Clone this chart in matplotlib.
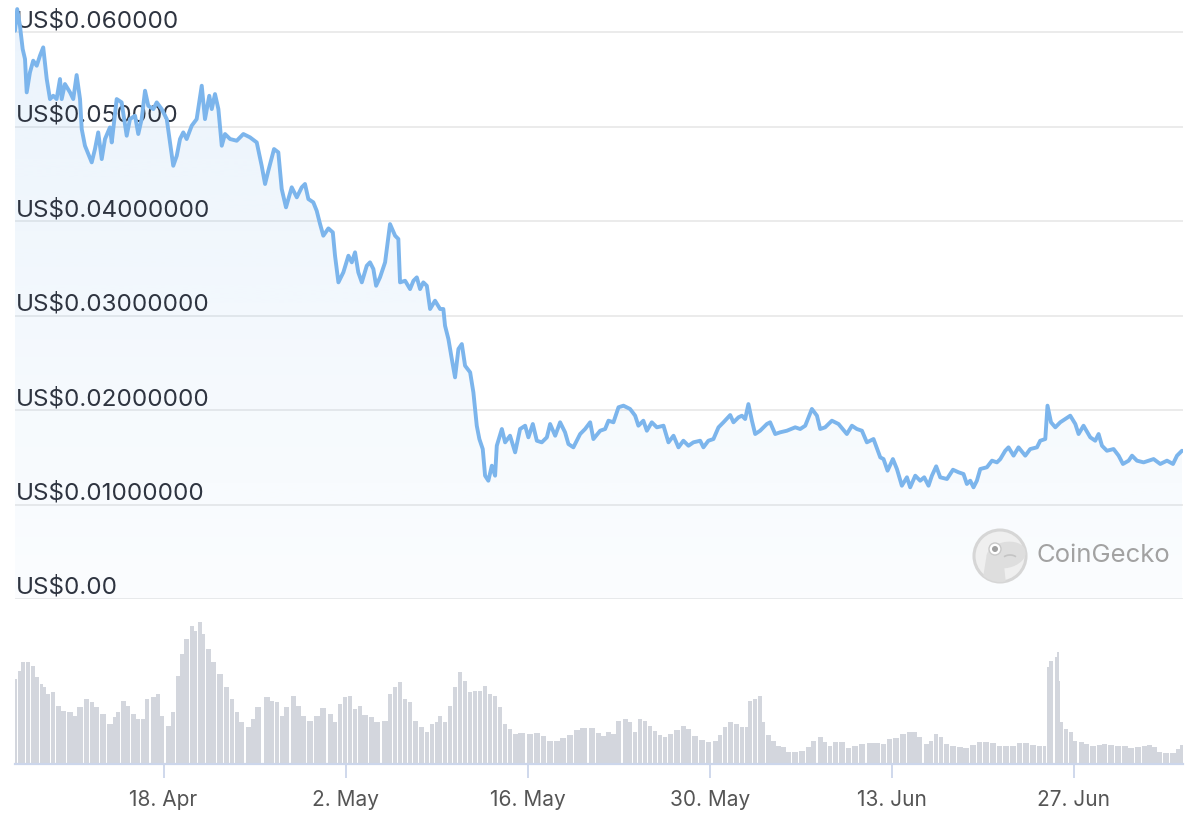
import numpy as np
import pandas as pd
import matplotlib
matplotlib.use("Agg")
import matplotlib.pyplot as plt
import matplotlib.dates as mdates
from matplotlib.colors import to_rgb
from matplotlib.patches import Circle, Ellipse, Polygon, Arc
from matplotlib.ticker import FixedLocator, FixedFormatter

plt.rcParams['font.family'] = ['Inter', 'DejaVu Sans']

# ---------------- data ----------------
START = '2022-04-06'

price_day = [
    0.58, 0.75, 0.96, 1.17, 1.35, 1.48, 1.73, 1.98, 2.25, 2.50, 2.75, 3.02, 3.27, 3.52, 3.78,
    4.04, 4.17, 4.42, 4.81, 5.06, 5.32, 5.58, 5.71, 5.96, 6.48, 6.73, 6.98, 7.25, 7.50, 7.88,
    8.02, 8.40, 8.78, 9.17, 9.42, 9.81, 10.06, 10.32, 10.58, 10.83, 11.22, 11.48, 11.86, 12.25,
    12.50, 12.75, 13.02, 13.27, 13.52, 13.78, 14.17, 14.55, 14.94, 15.19, 15.52, 15.71, 15.96,
    16.22, 16.48, 16.73, 17.12, 17.63, 18.14, 18.65, 19.17, 19.55, 19.81, 20.06, 20.50, 20.83,
    21.09, 21.42, 21.86, 22.25, 22.63, 22.88, 23.14, 23.52, 23.78, 24.04, 24.29, 24.68, 25.02,
    25.19, 25.45, 25.83, 26.22, 26.48, 26.73, 26.98, 27.25, 27.63, 27.88, 28.14, 28.35, 28.65,
    29.04, 29.17, 29.42, 29.81, 30.06, 30.19, 30.58, 30.96, 31.22, 31.48, 31.73, 31.98, 32.25,
    32.50, 32.88, 33.27, 33.52, 33.65, 33.91, 34.17, 34.42, 34.68, 34.94, 35.19, 35.58, 35.83,
    36.09, 36.29, 36.55, 36.73, 36.98, 37.25, 37.50, 37.63, 38.02, 38.27, 38.65, 39.04, 39.42,
    39.81, 40.06, 40.40, 40.71, 41.09, 41.48, 41.73, 42.12, 42.50, 42.88, 43.14, 43.52, 44.04,
    44.42, 44.81, 45.06, 45.58, 45.96, 46.22, 46.60, 46.99, 47.37, 47.88, 48.27, 48.52, 48.90,
    49.17, 49.55, 49.94, 50.45, 50.83, 51.22, 51.60, 51.98, 52.37, 52.75, 53.27, 53.52, 53.90,
    54.29, 54.68, 55.06, 55.58, 55.83, 56.22, 56.48, 56.73, 56.98, 57.25, 57.50, 57.88, 58.40,
    58.65, 59.04, 59.42, 59.94, 60.58, 60.96, 61.35, 61.86, 62.25, 62.50, 62.88, 63.40, 63.91,
    64.55, 64.94, 65.32, 65.71, 66.09, 66.60, 67.12, 67.37, 67.68, 68.09, 68.40, 68.78, 69.17,
    69.42, 69.81, 70.19, 70.50, 70.83, 71.09, 71.42, 71.73, 72.25, 72.71, 73.14, 73.52, 73.78,
    74.04, 74.29, 74.55, 74.81, 75.32, 75.71, 76.09, 76.35, 76.73, 76.98, 77.37, 77.75, 78.27,
    78.65, 79.17, 79.42, 79.81, 79.98, 80.25, 80.58, 80.96, 81.35, 81.73, 82.12, 82.37, 82.75,
    83.27, 83.65, 83.91, 84.17, 84.55, 85.06, 85.45, 85.78, 86.22, 86.48, 86.86, 87.37, 88.14,
    88.65, 89.17, 89.63, 89.94, 90.32,
]

price_usd = [
    0.06014, 0.06243, 0.06067, 0.05820, 0.05714, 0.05362, 0.05573, 0.05697, 0.05644, 0.05750,
    0.05838, 0.05503, 0.05291, 0.05326, 0.05291, 0.05503, 0.05291, 0.05450, 0.05362, 0.05291,
    0.05545, 0.05291, 0.04974, 0.04797, 0.04621, 0.04762, 0.04938, 0.04656, 0.04868, 0.04991,
    0.04832, 0.05291, 0.05256, 0.04903, 0.05079, 0.05115, 0.04921, 0.05079, 0.05379, 0.05220,
    0.05185, 0.05256, 0.05185, 0.05079, 0.04832, 0.04585, 0.04691, 0.04868, 0.04938, 0.04868,
    0.05009, 0.05079, 0.05432, 0.05079, 0.05326, 0.05185, 0.05344, 0.05185, 0.04797, 0.04921,
    0.04868, 0.04850, 0.04921, 0.04886, 0.04832, 0.04585, 0.04392, 0.04532, 0.04762, 0.04727,
    0.04339, 0.04145, 0.04357, 0.04251, 0.04357, 0.04392, 0.04233, 0.04198, 0.04109, 0.03968,
    0.03845, 0.03922, 0.03880, 0.03633, 0.03351, 0.03457, 0.03633, 0.03563, 0.03669, 0.03457,
    0.03351, 0.03527, 0.03563, 0.03492, 0.03315, 0.03404, 0.03563, 0.03704, 0.03968, 0.03845,
    0.03810, 0.03351, 0.03368, 0.03280, 0.03368, 0.03404, 0.03280, 0.03351, 0.03315, 0.03069,
    0.03157, 0.03069, 0.03069, 0.02892, 0.02751, 0.02540, 0.02346, 0.02646, 0.02698, 0.02469,
    0.02399, 0.02187, 0.01834, 0.01693, 0.01587, 0.01305, 0.01252, 0.01411, 0.01305, 0.01622,
    0.01799, 0.01658, 0.01728, 0.01552, 0.01799, 0.01834, 0.01711, 0.01852, 0.01675, 0.01658,
    0.01711, 0.01852, 0.01728, 0.01870, 0.01764, 0.01640, 0.01605, 0.01746, 0.01799, 0.01870,
    0.01693, 0.01781, 0.01799, 0.01887, 0.01870, 0.02029, 0.02046, 0.02011, 0.01940, 0.01834,
    0.01887, 0.01781, 0.01870, 0.01817, 0.01834, 0.01658, 0.01728, 0.01605, 0.01675, 0.01622,
    0.01658, 0.01675, 0.01605, 0.01675, 0.01693, 0.01817, 0.01870, 0.01947, 0.01870, 0.01923,
    0.01940, 0.01905, 0.02063, 0.01887, 0.01746, 0.01781, 0.01852, 0.01870, 0.01746, 0.01764,
    0.01781, 0.01817, 0.01799, 0.01834, 0.02011, 0.01940, 0.01799, 0.01817, 0.01887, 0.01852,
    0.01746, 0.01834, 0.01799, 0.01781, 0.01658, 0.01693, 0.01499, 0.01481, 0.01358, 0.01481,
    0.01376, 0.01199, 0.01288, 0.01182, 0.01305, 0.01252, 0.01288, 0.01199, 0.01305, 0.01404,
    0.01288, 0.01270, 0.01368, 0.01341, 0.01323, 0.01217, 0.01252, 0.01182, 0.01252, 0.01376,
    0.01394, 0.01464, 0.01446, 0.01481, 0.01569, 0.01605, 0.01517, 0.01605, 0.01517, 0.01587,
    0.01605, 0.01675, 0.01693, 0.02046, 0.01870, 0.01817, 0.01870, 0.01905, 0.01940, 0.01852,
    0.01746, 0.01834, 0.01711, 0.01675, 0.01746, 0.01622, 0.01569, 0.01587, 0.01517, 0.01429,
    0.01464, 0.01517, 0.01464, 0.01446, 0.01481, 0.01429, 0.01464, 0.01429, 0.01517, 0.01569,
]

volume_day = [
    0.58, 0.96, 1.22, 1.60, 1.98, 2.25, 2.63, 2.88, 3.14, 3.52, 3.91, 4.29, 4.81, 5.19, 5.58,
    6.09, 6.48, 6.86, 7.37, 7.88, 8.27, 8.52, 8.91, 9.29, 9.68, 10.06, 10.45, 10.71, 11.22,
    11.60, 11.86, 12.37, 12.75, 13.14, 13.40, 13.78, 14.17, 14.42, 14.81, 15.06, 15.45, 15.83,
    16.35, 16.86, 17.25, 17.63, 18.02, 18.52, 18.91, 19.29, 19.94, 20.32, 20.71, 21.09, 21.48,
    21.98, 22.37, 22.75, 23.27, 23.78, 24.29, 24.81, 25.19, 25.58, 25.96, 26.35, 26.73, 27.12,
    27.50, 28.02, 28.40, 29.04, 29.42, 29.81, 30.19, 30.58, 30.96, 31.35, 31.86, 32.25, 32.63,
    33.02, 33.27, 33.65, 34.04, 34.42, 34.81, 35.19, 35.58, 35.96, 36.35, 36.73, 37.12, 37.50,
    37.88, 38.27, 38.65, 39.04, 39.55, 40.19, 40.71, 41.22, 41.73, 42.25, 42.75, 43.27, 43.78,
    44.29, 44.94, 45.45, 45.83, 46.22, 46.60, 46.99, 47.50, 47.88, 48.27, 48.65, 49.04, 49.42,
    49.81, 50.19, 50.58, 50.96, 51.48, 51.98, 52.37, 52.88, 53.40, 53.91, 54.42, 54.81, 55.19,
    55.58, 56.09, 56.48, 56.86, 57.12, 57.50, 57.88, 58.14, 58.52, 58.91, 59.29, 59.68, 60.06,
    60.58, 61.09, 61.60, 61.99, 62.50, 62.88, 63.27, 63.65, 64.17, 64.68, 65.19, 65.71, 66.35,
    66.86, 67.37, 67.83, 68.35, 68.86, 69.37, 69.75, 70.14, 70.65, 71.04, 71.42, 71.81, 72.19,
    72.71, 73.22, 73.73, 74.25, 74.75, 75.27, 75.78, 76.29, 76.81, 77.32, 77.83, 78.35, 78.86,
    79.37, 79.75, 80.02, 80.27, 80.65, 80.78, 80.91, 81.04, 81.42, 81.81, 82.06, 82.58, 82.96,
    83.48, 83.98, 84.37, 84.88, 85.40, 85.91, 86.42, 86.94, 87.45, 87.83, 88.22, 88.60, 89.12,
    89.63, 90.01, 90.27,
]

volume_rel = [
    85, 93, 102, 102, 98, 87, 80, 77, 70, 72, 58, 53, 52, 48, 57,
    65, 62, 57, 50, 40, 47, 52, 63, 58, 50, 45, 45, 65, 67,
    70, 48, 38, 52, 88, 110, 125, 138, 133, 142, 130, 115, 102,
    90, 77, 65, 52, 42, 37, 45, 57, 67, 63, 62, 48, 57,
    68, 58, 48, 43, 48, 56, 50, 42, 60, 67, 68, 55, 58,
    49, 47, 42, 43, 70, 77, 82, 65, 62, 43, 37, 32, 40,
    42, 48, 42, 58, 77, 92, 83, 72, 73, 73, 78, 70, 68,
    57, 40, 35, 30, 31, 30, 31, 28, 23, 23, 26, 29, 34,
    36, 36, 31, 28, 32, 30, 43, 45, 42, 32, 45, 43, 38,
    33, 29, 27, 30, 34, 38, 35, 28, 24, 22, 23, 29, 37,
    42, 40, 37, 37, 63, 65, 68, 42, 29, 23, 18, 17, 12,
    12, 13, 17, 23, 27, 22, 18, 22, 22, 16, 18, 20, 21,
    21, 20, 25, 26, 30, 32, 32, 27, 20, 23, 30, 27, 20,
    18, 17, 16, 19, 22, 22, 21, 18, 18, 18, 21, 21, 19,
    18, 18, 97, 103, 107, 112, 83, 42, 35, 32, 23, 22, 20,
    18, 19, 20, 19, 18, 18, 16, 17, 18, 19, 17, 12, 11,
    11, 15, 19,
]

ytick_values = [0.0, 0.01, 0.02, 0.03, 0.04, 0.05, 0.06]
ytick_labels = ['US$0.00', 'US$0.01000000', 'US$0.02000000', 'US$0.03000000',
                'US$0.04000000', 'US$0.050000', 'US$0.060000']
xtick_dates = ['2022-04-18', '2022-05-02', '2022-05-16', '2022-05-30', '2022-06-13', '2022-06-27']
xtick_labels = ['18. Apr', '2. May', '16. May', '30. May', '13. Jun', '27. Jun']

# ---------------- styles ----------------
LINE_C = '#7cb5ec'
GRID_C = '#ebebeb'
VOL_C = '#d3d6dd'
AXIS_C = '#ccd6eb'
YLAB_C = '#2e3440'
XLAB_C = '#555555'

W, H = 1196, 820
fig = plt.figure(figsize=(W / 100, H / 100), dpi=100)
fig.patch.set_facecolor('white')

t0 = pd.Timestamp(START)
pt = mdates.date2num(t0 + pd.to_timedelta(np.array(price_day), unit='D'))
vt = mdates.date2num(t0 + pd.to_timedelta(np.array(volume_day), unit='D'))
xt = mdates.date2num(pd.to_datetime(xtick_dates))
x0, x1 = pt[0], pt[-1] + 0.08
p = np.array(price_usd)
YTOP = 0.0635

# ---------------- price axes ----------------
ax = fig.add_axes([15 / W, 220 / H, 1168 / W, 600 / H])
ax.set_facecolor('none')
for v in ytick_values:
    ax.axhline(v, color=GRID_C, lw=1.4, zorder=0)
for v, lab in zip(ytick_values, ytick_labels):
    ax.annotate(lab, xy=(0, v), xycoords=('axes fraction', 'data'),
                xytext=(1, 6), textcoords='offset pixels', ha='left', va='baseline',
                fontsize=17.4, color=YLAB_C, zorder=2)

fb = ax.fill_between(pt, p, 0, color='none', lw=0)
grad = np.linspace(1, 0, 256)
rgba = np.zeros((256, 1, 4))
rgba[..., :3] = to_rgb(LINE_C)
rgba[:, 0, 3] = 0.03 + 0.13 * grad
im = ax.imshow(rgba, extent=[x0, x1, 0, YTOP], aspect='auto', origin='upper',
               zorder=1, interpolation='bilinear')
im.set_clip_path(fb.get_paths()[0], transform=ax.transData)
ax.plot(pt, p, color=LINE_C, lw=2.8, solid_joinstyle='round', solid_capstyle='round', zorder=3)
ax.set_xlim(x0, x1)
ax.set_ylim(0, YTOP)
ax.axis('off')

# ---------------- volume axes ----------------
axv = fig.add_axes([15 / W, 55 / H, 1168 / W, 155 / H])
edges = np.concatenate([[vt[0] - (vt[1] - vt[0]) / 2], (vt[1:] + vt[:-1]) / 2,
                        [vt[-1] + (vt[-1] - vt[-2]) / 2]])
widths = np.diff(edges) * 0.88
axv.bar(vt, volume_rel, width=widths, color=VOL_C, lw=0, align='center')
axv.set_xlim(x0, x1)
axv.set_ylim(0, 155)
for s in ['top', 'left', 'right']:
    axv.spines[s].set_visible(False)
axv.spines['bottom'].set_color(AXIS_C)
axv.spines['bottom'].set_linewidth(1.6)
axv.set_yticks([])
axv.xaxis.set_major_locator(FixedLocator(xt))
axv.xaxis.set_major_formatter(FixedFormatter(xtick_labels))
axv.tick_params(axis='x', length=10, width=1.3, color=AXIS_C, labelsize=15,
                labelcolor=XLAB_C, pad=8)

# ---------------- watermark ----------------
axo = fig.add_axes([0, 0, 1, 1], zorder=5)
axo.set_xlim(0, W)
axo.set_ylim(H, 0)
axo.axis('off')
axo.patch.set_alpha(0)
logo = Circle((1000, 557), 26, fc='#efefef', ec='#d6d6d6', lw=2.2)
axo.add_patch(logo)
head = Ellipse((1006, 556), 40, 26, angle=-12, fc='#dedede', ec='none')
axo.add_patch(head)
head.set_clip_path(logo)
body = Polygon([(982, 585), (986, 560), (994, 552), (1004, 566), (1006, 585)],
               closed=True, fc='#dedede', ec='none')
axo.add_patch(body)
body.set_clip_path(logo)
axo.add_patch(Circle((995, 550), 6, fc='white', ec='#c9c9c9', lw=1))
axo.add_patch(Circle((995, 550), 3, fc='#a0a0a0', ec='none'))
axo.add_patch(Arc((1010, 560), 14, 8, theta1=200, theta2=340, color='#c4c4c4', lw=1.2))
axo.text(1037, 556, 'CoinGecko', fontsize=18.5, color='#a2a2a2', ha='left', va='center')

fig.savefig('out.png', dpi=100, facecolor='white')
